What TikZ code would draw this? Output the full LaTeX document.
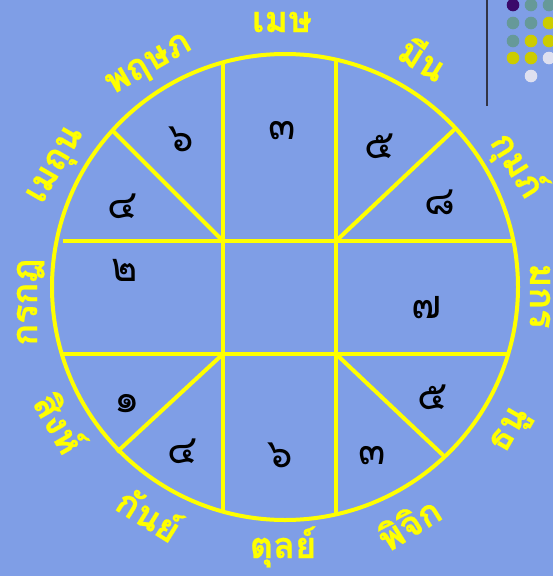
\documentclass[tikz,border=0pt]{standalone}
\usepackage{fontspec}
\newfontfamily\thaifont[Script=Thai]{Loma}
\newfontfamily\signfont[Script=Thai,BoldFeatures={FakeBold=0.6}]{Loma}
\definecolor{bg}{RGB}{127,158,230}
\definecolor{yl}{RGB}{255,255,0}
\definecolor{dotpurple}{RGB}{58,10,106}
\definecolor{dotteal}{RGB}{102,153,153}
\definecolor{dotyellow}{RGB}{204,204,0}
\definecolor{dotlav}{RGB}{222,224,240}
\definecolor{rulegray}{RGB}{50,52,70}
\tikzset{
  ring/.style={draw=yl,line width=4pt},
  gridline/.style={draw=yl,line width=4pt},
  digit/.style={font=\thaifont\fontsize{40}{40}\selectfont,text=black,inner sep=0pt,anchor=base},
  sign/.style={font=\signfont\bfseries\fontsize{36}{36}\selectfont,text=yl,inner sep=0pt,anchor=base},
  dot/.style={circle,inner sep=0pt,minimum size=12.6pt},
}
\begin{document}
\begin{tikzpicture}[x=1pt,y=-1pt]
\fill[bg] (0,0) rectangle (553,576);
\useasboundingbox (0,0) rectangle (553,576);
\coordinate (O) at (285,287);
% grid inside the circle
\begin{scope}
  \clip (O) circle (233pt);
  \draw[gridline] (223,30) -- (223,560);
  \draw[gridline] (336,30) -- (336,560);
  \draw[gridline] (63,241) -- (540,241);
  \draw[gridline] (62,354) -- (540,354);
\end{scope}
\coordinate (c1) at (223,241);
\coordinate (c2) at (336,241);
\coordinate (c3) at (223,354);
\coordinate (c4) at (336,354);
\coordinate (e1) at (112,130);
\coordinate (e2) at (456,128);
\coordinate (e3) at (117,452);
\coordinate (e4) at (445,457);
\draw[gridline] (c1) -- (e1);
\draw[gridline] (c2) -- (e2);
\draw[gridline] (c3) -- (e3);
\draw[gridline] (c4) -- (e4);
\draw[ring] (O) circle (233pt);
% numbers
\node[digit] (n1) at (181,151) {๖};
\node[digit] (n2) at (282,139) {๓};
\node[digit] (n3) at (380,158) {๕};
\node[digit] (n4) at (123,218) {๔};
\node[digit] (n5) at (440,214) {๘};
\node[digit] (n6) at (125,281) {๒};
\node[digit] (n7) at (427,318) {๗};
\node[digit] (n8) at (127,412) {๑};
\node[digit] (n9) at (433,409) {๕};
\node[digit] (n10) at (183,463) {๔};
\node[digit] (n11) at (280,467) {๖};
\node[digit] (n12) at (372,464) {๓};
% zodiac names: centre x / centre y / rotation / text
\foreach \cx/\cy/\rot/\t [count=\i] in {
  282/22/0/เมษ, 148/63/30/พฤษภ, 54/164/60/เมถุน, 27/302/90/กรกฎ,
  56/425/-60/สิงห์, 147/518/-32/กันย์, 283/548/0/ตุลย์, 411/527/32/พิจิก,
  508/429/60/ธนู, 540/296/-90/มกร, 516/166/-58/กุมภ์, 421/62/-32/มีน}
{
  \node[sign,rotate=\rot] (s\i) at ({\cx+10*sin(\rot)},{\cy+10*cos(\rot)}) {\t};
}
% decoration top right
\coordinate (v1) at (487,0);
\coordinate (v2) at (487,106);
\draw[rulegray,line width=1.5pt] (v1) -- (v2);
\node[dot,fill=dotpurple] (d11) at (513,5) {};
\node[dot,fill=dotteal] (d12) at (531,5) {};
\node[dot,fill=dotteal] (d13) at (549,5) {};
\node[dot,fill=dotteal] (d21) at (513,23) {};
\node[dot,fill=dotteal] (d22) at (531,23) {};
\node[dot,fill=dotyellow] (d23) at (549,23) {};
\node[dot,fill=dotteal] (d31) at (513,41) {};
\node[dot,fill=dotyellow] (d32) at (531,41) {};
\node[dot,fill=dotyellow] (d33) at (549,41) {};
\node[dot,fill=dotyellow] (d41) at (513,58) {};
\node[dot,fill=dotyellow] (d42) at (531,58) {};
\node[dot,fill=dotlav] (d43) at (549,58) {};
\node[dot,fill=dotlav] (d52) at (531,76) {};
\end{tikzpicture}
\end{document}
